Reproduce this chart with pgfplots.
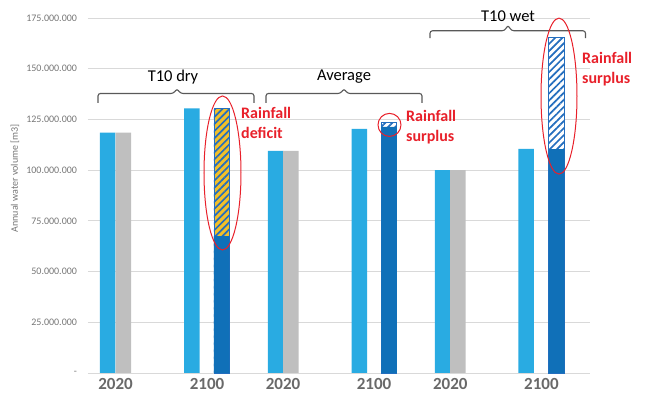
\documentclass[border=0pt]{standalone}
\usepackage{fontspec}
\setmainfont{Carlito}
\usepackage{pgfplots}
\pgfplotsset{compat=1.18}
\usetikzlibrary{patterns.meta}
\definecolor{lblue}{RGB}{41,171,226}
\definecolor{gbar}{RGB}{191,191,191}
\definecolor{dblue}{RGB}{16,112,184}
\definecolor{hblue}{RGB}{36,110,190}
\definecolor{hyellow}{RGB}{242,192,40}
\definecolor{gridcol}{RGB}{217,217,217}
\definecolor{tickcol}{RGB}{118,118,118}
\definecolor{xtickcol}{RGB}{105,105,105}
\definecolor{brcol}{RGB}{89,89,89}
\definecolor{annred}{RGB}{232,32,42}
\begin{document}
\begin{tikzpicture}[x=1pt,y=1pt]
\useasboundingbox (0,0) rectangle (649,395);
\begin{axis}[
  at={(88pt,22pt)}, anchor=south west,
  scale only axis, width=502pt, height=355pt,
  xmin=88, xmax=590, ymin=0, ymax=175,
  clip=false,
  ybar, bar width=15.5, bar shift=0pt,
  axis x line*=bottom, axis y line*=left,
  y axis line style={draw=none},
  x axis line style={draw=gridcol, line width=0.8pt},
  ymajorgrids, grid style={draw=gridcol, line width=0.8pt},
  major tick length=0,
  xtick={115.5,207,283,374,450.3,541.4},
  xticklabels={2020,2100,2020,2100,2020,2100},
  xticklabel style={font=\fontsize{17}{17}\selectfont\bfseries, text=xtickcol, yshift=-1.5pt},
  ytick={0,25,50,75,100,125,150,175},
  yticklabels={-\hspace{6pt},25.000.000,50.000.000,75.000.000,100.000.000,125.000.000,150.000.000,175.000.000},
  yticklabel style={font=\fontsize{10}{10}\selectfont, text=tickcol, xshift=-7.5pt},
]
% light blue bars
\addplot[ybar, bar shift=0pt, fill=lblue, draw=none] coordinates {(107.7,118.5) (192,130.5) (275.5,109.5) (359.3,120.3) (442.7,100) (526.2,110.5)};
% gray bars
\addplot[ybar, bar shift=0pt, fill=gbar, draw=none] coordinates {(123.3,118.5) (290.8,109.5) (457.9,100)};
% background of hatched bars
\addplot[ybar, bar shift=0pt, fill=hyellow, draw=none] coordinates {(221.7,130.2)};
\addplot[ybar, bar shift=0pt, fill=white, draw=none] coordinates {(389,123.6) (556.5,165.5)};
% hatched totals
\addplot[ybar, bar shift=0pt, pattern={Lines[angle=45,distance=5pt,line width=1.7pt]}, pattern color=hblue, draw=hblue, line width=0.8pt] coordinates {(221.7,130.2) (389,123.6) (556.5,165.5)};
% dark blue solid bars
\addplot[ybar, bar shift=0pt, fill=dblue, draw=none] coordinates {(221.7,67.5) (389,121.3) (556.5,110.3)};

% brackets
\draw[brcol, line width=1.1pt, rounded corners=2.5pt] (axis cs:98,133.1) -- (axis cs:98,137.8) -- (axis cs:173.5,137.8) -- (axis cs:177,140.2) -- (axis cs:180.5,137.8) -- (axis cs:254,137.8) -- (axis cs:254,133.1);
\draw[brcol, line width=1.1pt, rounded corners=2.5pt] (axis cs:266,133.1) -- (axis cs:266,137.8) -- (axis cs:340.5,137.8) -- (axis cs:344,140.2) -- (axis cs:347.5,137.8) -- (axis cs:422,137.8) -- (axis cs:422,133.1);
\draw[brcol, line width=1.1pt, rounded corners=2.5pt] (axis cs:430,165.1) -- (axis cs:430,168.7) -- (axis cs:504.5,168.7) -- (axis cs:508,171.5) -- (axis cs:511.5,168.7) -- (axis cs:585.5,168.7) -- (axis cs:585.5,165.1);
\node[font=\fontsize{16.5}{16.5}\selectfont] at (axis cs:173,146.1) {T10 dry};
\node[font=\fontsize{16.5}{16.5}\selectfont] at (axis cs:344,146.1) {Average};
\node[font=\fontsize{16.5}{16.5}\selectfont] at (axis cs:508,176.1) {T10 wet};

% red ellipses
\draw[annred, line width=1pt] (axis cs:222.5,98.6) ellipse [x radius=18.5pt, y radius=77pt];
\draw[annred, line width=1pt] (axis cs:389.5,122.3) circle [radius=11.5pt];
\draw[annred, line width=1pt] (axis cs:559,136.5) ellipse [x radius=18pt, y radius=78pt];

% red labels
\node[annred, anchor=west, align=left, font=\fontsize{16}{20}\selectfont\bfseries, inner sep=0pt] at (axis cs:241,123.2) {Rainfall\\deficit};
\node[annred, anchor=west, align=left, font=\fontsize{16}{20}\selectfont\bfseries, inner sep=0pt] at (axis cs:406,121) {Rainfall\\surplus};
\node[annred, anchor=west, align=left, font=\fontsize{16}{20}\selectfont\bfseries, inner sep=0pt] at (axis cs:582,149.9) {Rainfall\\surplus};

% y axis label
\node[rotate=90, font=\fontsize{10}{10}\selectfont, text=tickcol] at (axis cs:15,96) {Annual water volume [m3]};
\end{axis}
\end{tikzpicture}
\end{document}
